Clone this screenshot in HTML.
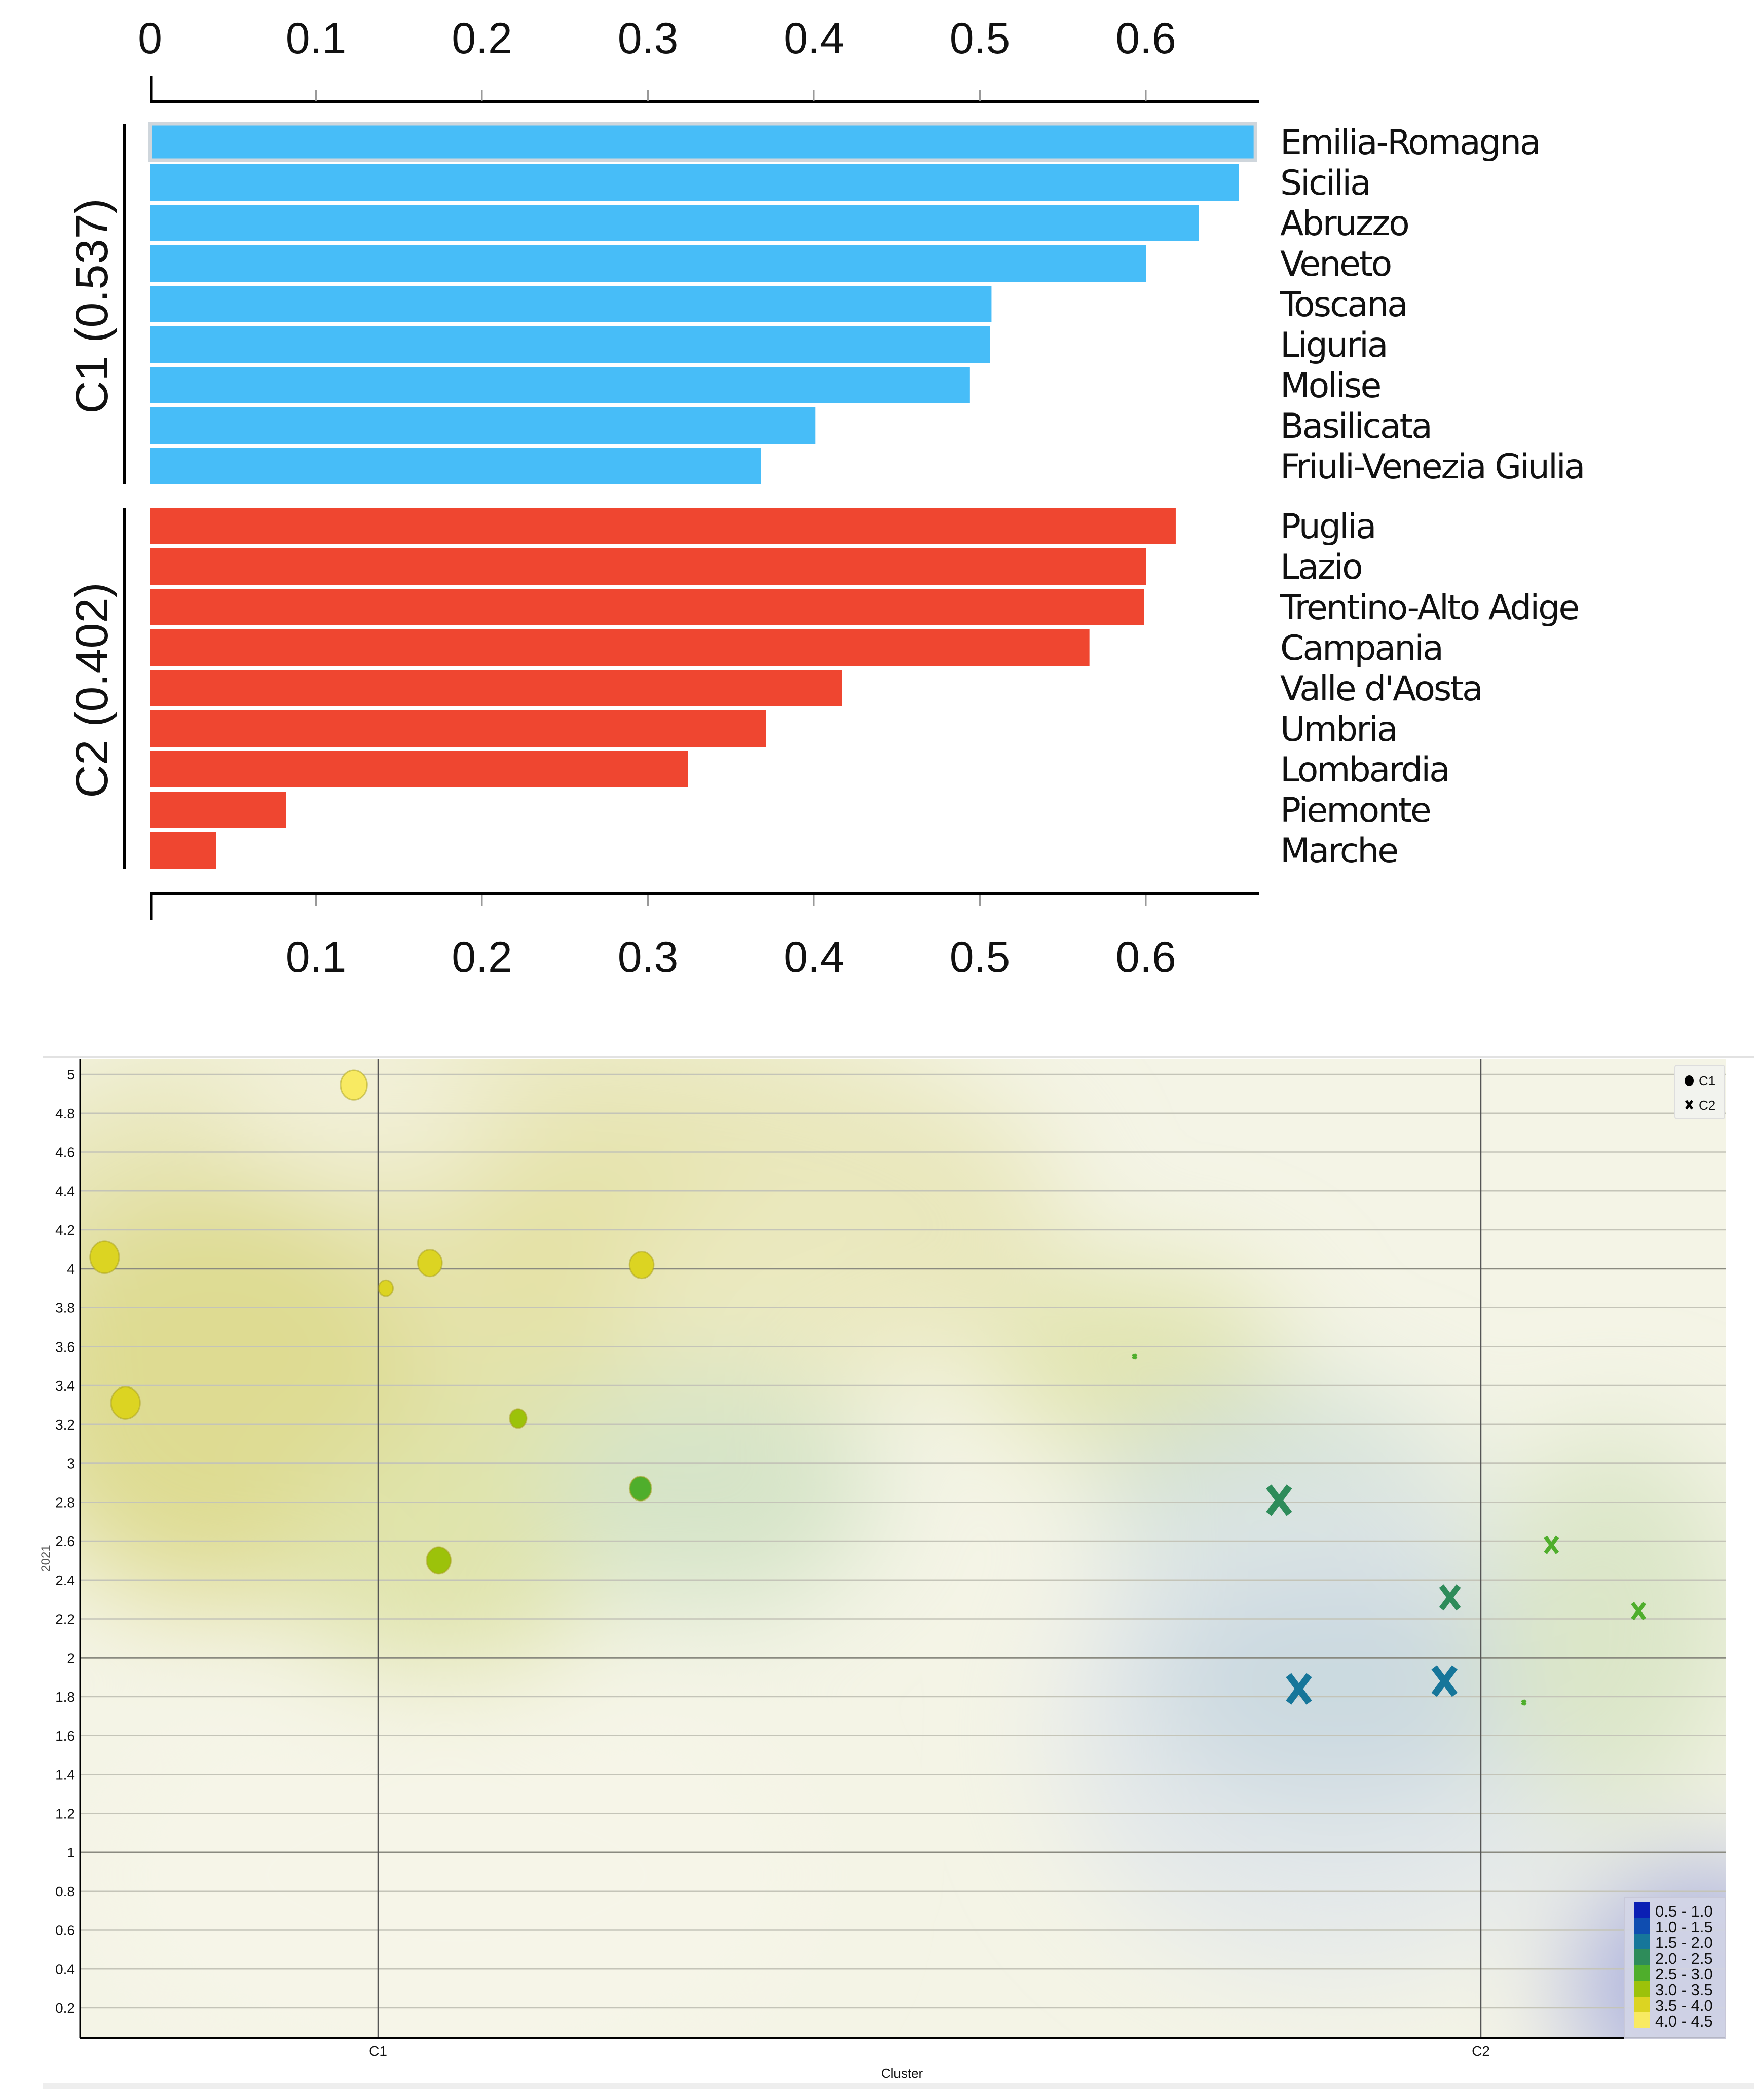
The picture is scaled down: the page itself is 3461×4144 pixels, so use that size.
<!DOCTYPE html>
<html><head><meta charset="utf-8"><style>
html,body{margin:0;padding:0;background:#fff;}
body{width:3461px;height:4144px;position:relative;overflow:hidden;font-family:"Liberation Sans","DejaVu Sans",sans-serif;}
svg{position:absolute;left:0;top:0;}
</style></head><body>
<svg id="bar" width="3461" height="2000" viewBox="0 0 3461 2000"></svg>
<svg id="sc" width="3461" height="4144" viewBox="0 0 3461 4144" style="top:0"></svg>
<script>
// ---- Bar chart data ----
const c1Names=["Emilia-Romagna","Sicilia","Abruzzo","Veneto","Toscana","Liguria","Molise","Basilicata","Friuli-Venezia Giulia"];
const c1Vals=[0.666,0.656,0.632,0.600,0.507,0.506,0.494,0.401,0.368];
const c2Names=["Puglia","Lazio","Trentino-Alto Adige","Campania","Valle d'Aosta","Umbria","Lombardia","Piemonte","Marche"];
const c2Vals=[0.618,0.600,0.599,0.566,0.417,0.371,0.324,0.082,0.040];
const groupLabels=["C1 (0.537)","C2 (0.402)"];
const topTicks=[0,0.1,0.2,0.3,0.4,0.5,0.6];
const bottomTicks=[0.1,0.2,0.3,0.4,0.5,0.6];

// ---- Scatter data ----
const circX=[0.978,0.752,0.771,1.007,1.047,1.239,1.127,1.238,1.055];
const circY=[4.945,4.06,3.31,3.90,4.03,4.02,3.23,2.87,2.50];
const circSize=[11,12,12,6,10,10,7,9,10];
const circVal=[4.2,3.7,3.7,3.7,3.7,3.7,3.2,2.7,3.2];
const crossX=[1.686,1.817,1.972,2.064,2.143,1.835,1.967,2.039];
const crossY=[3.55,2.81,2.31,2.58,2.24,1.84,1.88,1.77];
const crossSize=[2,12,10,7,7,12,12,2];
const crossVal=[2.7,2.2,2.2,2.7,2.7,1.7,1.7,2.7];
const yTicks=[0.2,0.4,0.6,0.8,1,1.2,1.4,1.6,1.8,2,2.2,2.4,2.6,2.8,3,3.2,3.4,3.6,3.8,4,4.2,4.4,4.6,4.8,5];
const xCats=["C1","C2"];
const legendRanges=["0.5 - 1.0","1.0 - 1.5","1.5 - 2.0","2.0 - 2.5","2.5 - 3.0","3.0 - 3.5","3.5 - 4.0","4.0 - 4.5"];
const legendColors=["#0b1fb4","#0f4db0","#16769a","#2e8c5a","#4fae2c","#9cc20a","#dcd422","#f8ea62"];

const NS="http://www.w3.org/2000/svg";
function mk(parent,tag,attrs){const e=document.createElementNS(NS,tag);for(const k in attrs)e.setAttribute(k,attrs[k]);parent.appendChild(e);return e;}

// ===== Bar chart =====
(function(){
const s=document.getElementById('bar');
const bx=v=>296+v*3275;
const pitch=80, bh=72;
const font='"Liberation Sans","DejaVu Sans",sans-serif';
let ax=mk(s,'line',{x1:bx(0),y1:201,x2:2484,y2:201,stroke:'#000','stroke-width':6});

mk(s,'line',{x1:bx(0)+2,y1:150,x2:bx(0)+2,y2:204,stroke:'#000','stroke-width':5});
topTicks.forEach(t=>{
  if(t>0)mk(s,'line',{x1:bx(t),y1:178,x2:bx(t),y2:199,stroke:'#999','stroke-width':3});
  const tx=mk(s,'text',{x:bx(t),y:105,'text-anchor':'middle','font-size':86,'font-family':font,fill:'#111'});
  tx.textContent=String(t);
  
});
mk(s,'line',{x1:bx(0),y1:1763,x2:2484,y2:1763,stroke:'#000','stroke-width':6});
mk(s,'line',{x1:bx(0)+2,y1:1760,x2:bx(0)+2,y2:1815,stroke:'#000','stroke-width':5});
bottomTicks.forEach(t=>{
  mk(s,'line',{x1:bx(t),y1:1766,x2:bx(t),y2:1788,stroke:'#999','stroke-width':3});
  const tx=mk(s,'text',{x:bx(t),y:1918,'text-anchor':'middle','font-size':86,'font-family':font,fill:'#111'});
  tx.textContent=String(t);
  
});
function group(names,vals,top,color,gi){
  const g=mk(s,'g',{});
  
  const n=names.length;
  mk(g,'line',{x1:246,y1:top,x2:246,y2:top+n*pitch-8,stroke:'#000','stroke-width':6});
  const cy=top+(n*pitch)/2;
  const gl=mk(g,'text',{x:0,y:0,transform:`translate(212 ${cy}) rotate(-90)`,'text-anchor':'middle','font-size':90,'font-family':font,fill:'#111'});
  gl.textContent=groupLabels[gi];
  
  names.forEach((nm,i)=>{
    const y=top+i*pitch;
    const r=mk(g,'rect',{x:bx(0),y:y,width:bx(vals[i])-bx(0),height:bh,fill:color});
    
    
    if(gi===0&&i===0){r.setAttribute('stroke','#cfd6dc');r.setAttribute('stroke-width',7);}
    const t=mk(g,'text',{x:2526,y:y+bh/2+24,'font-size':68,'font-family':'"DejaVu Sans","Liberation Sans",sans-serif','letter-spacing':'-3',fill:'#111'});
    t.textContent=nm;
    
  });
}
group(c1Names,c1Vals,244,'#47bdf8',0);
group(c2Names,c2Vals,1002,'#ef4630',1);
})();

// ===== Scatter chart =====
(function(){
const s=document.getElementById('sc');
const L=158,R=3405,T=2090,B=4022;
const sx=v=>746+(v-1)*2176;
const sy=v=>2120+(5-v)*383.75;
const font='"Liberation Sans","DejaVu Sans",sans-serif';
const defs=mk(s,'defs',{});
const f=mk(defs,'filter',{id:'blur',x:'-50%',y:'-50%',width:'200%',height:'200%'});
mk(f,'feGaussianBlur',{stdDeviation:110});
const cp=mk(defs,'clipPath',{id:'pc'});
mk(cp,'rect',{x:L,y:T,width:R-L,height:B-T});
mk(s,'rect',{x:84,y:2083,width:3377,height:5,fill:'#e2e2e2'});
mk(s,'rect',{x:84,y:4110,width:3377,height:12,fill:'#eeeeee'});
const bg=mk(s,'g',{'clip-path':'url(#pc)'});

mk(bg,'rect',{x:L,y:T,width:R-L,height:B-T,fill:'#f4f4e6'});
const blobs=mk(bg,'g',{filter:'url(#blur)'});
const E=(cx,cy,rx,ry,c,o)=>mk(blobs,'ellipse',{cx,cy,rx,ry,fill:c,'fill-opacity':o});
E(1000,2400,1100,420,'#e9e7bc',1);
E(430,2750,420,420,'#dedb92',1);
E(1200,2480,350,220,'#e4e1a4',1);
E(1500,2550,300,180,'#ebe9c0',1);
E(700,2180,280,140,'#f3f1da',1);
E(870,3080,300,260,'#e0e4ac',1);
E(1030,2800,180,130,'#e0e3ac',1);
E(1400,2940,330,240,'#d6e4c8',1);
E(2240,2680,300,180,'#e1e4ae',1);
E(2530,2960,360,220,'#d2e1d6',1);
E(2640,3420,560,480,'#e3e8ea',1);
E(2640,3320,380,240,'#cbd9e0',1);
E(3180,3200,260,380,'#dbe6c8',1);
E(3360,3920,260,240,'#aab0de',1);
E(900,3700,700,400,'#f6f5e8',1);
yTicks.forEach(t=>{
  const major=(Math.abs(t-4)<1e-6||Math.abs(t-2)<1e-6||Math.abs(t-1)<1e-6);
  mk(s,'line',{x1:L,y1:sy(t),x2:R,y2:sy(t),stroke:major?'#8a8a80':'#c4c4b8','stroke-width':major?3:2.5});
  const tx=mk(s,'text',{x:L-10,y:sy(t)+10,'text-anchor':'end','font-size':28,'font-family':font,fill:'#111'});
  tx.textContent=String(t);
  
});
xCats.forEach((c,i)=>{
  const x=sx(i+1);
  mk(s,'line',{x1:x,y1:T,x2:x,y2:B,stroke:'#555','stroke-width':2.5});
  const tx=mk(s,'text',{x:x,y:4057,'text-anchor':'middle','font-size':28,'font-family':font,fill:'#111'});
  tx.textContent=c;
  
});
mk(s,'line',{x1:L,y1:T,x2:L,y2:B,stroke:'#000','stroke-width':3});
mk(s,'line',{x1:L,y1:B,x2:R,y2:B,stroke:'#000','stroke-width':4});
let xt=mk(s,'text',{x:1780,y:4100,'text-anchor':'middle','font-size':26,'font-family':font,fill:'#111'});
xt.textContent='Cluster';

let yt=mk(s,'text',{x:0,y:0,transform:'translate(98 3075) rotate(-90)','text-anchor':'middle','font-size':24,'font-family':font,fill:'#555'});
yt.textContent='2021';

const colorFor=v=>legendColors[Math.max(0,Math.min(7,Math.floor((v-0.5)/0.5)))];
const k=2.65;
circX.forEach((x,i)=>{
  const r=circSize[i]*k;
  const c=mk(s,'ellipse',{cx:sx(x),cy:sy(circY[i]),rx:r*0.9,ry:r,fill:colorFor(circVal[i]),stroke:'#a8a020','stroke-opacity':0.5,'stroke-width':3});
  
  
});
crossX.forEach((x,i)=>{
  const r=crossSize[i]*k*0.85, cx=sx(x), cy=sy(crossY[i]);
  const g=mk(s,'g',{stroke:colorFor(crossVal[i]),'stroke-width':Math.max(6,r*0.5),'stroke-linecap':'butt'});
  
  
  mk(g,'line',{x1:cx-r*0.75,y1:cy-r,x2:cx+r*0.75,y2:cy+r});
  mk(g,'line',{x1:cx+r*0.75,y1:cy-r,x2:cx-r*0.75,y2:cy+r});
});
const lg=mk(s,'g',{});

mk(lg,'rect',{x:3305,y:2102,width:98,height:106,fill:'#f2f3ee',stroke:'#ddd','stroke-width':2,rx:4});
mk(lg,'ellipse',{cx:3333,cy:2133,rx:9,ry:11,fill:'#000'});
let t1=mk(lg,'text',{x:3352,y:2142,'font-size':26,'font-family':font,fill:'#111'});t1.textContent='C1';
let xg=mk(lg,'g',{stroke:'#000','stroke-width':5});
mk(xg,'line',{x1:3327,y1:2172,x2:3339,y2:2188});mk(xg,'line',{x1:3339,y1:2172,x2:3327,y2:2188});
let t2=mk(lg,'text',{x:3352,y:2190,'font-size':26,'font-family':font,fill:'#111'});t2.textContent='C2';
const cl=mk(s,'g',{});

mk(cl,'rect',{x:3205,y:3745,width:200,height:277,fill:'#d4d6e6','fill-opacity':0.85,stroke:'#c8c8d8','stroke-width':2});
legendRanges.forEach((lab,i)=>{
  const y=3754+i*31;
  mk(cl,'rect',{x:3225,y:y,width:31,height:31,fill:legendColors[i]});
  const t=mk(cl,'text',{x:3266,y:y+28,'font-size':31,'font-family':font,fill:'#111'});
  t.textContent=lab;
  
});
})();
</script>
</body></html>
